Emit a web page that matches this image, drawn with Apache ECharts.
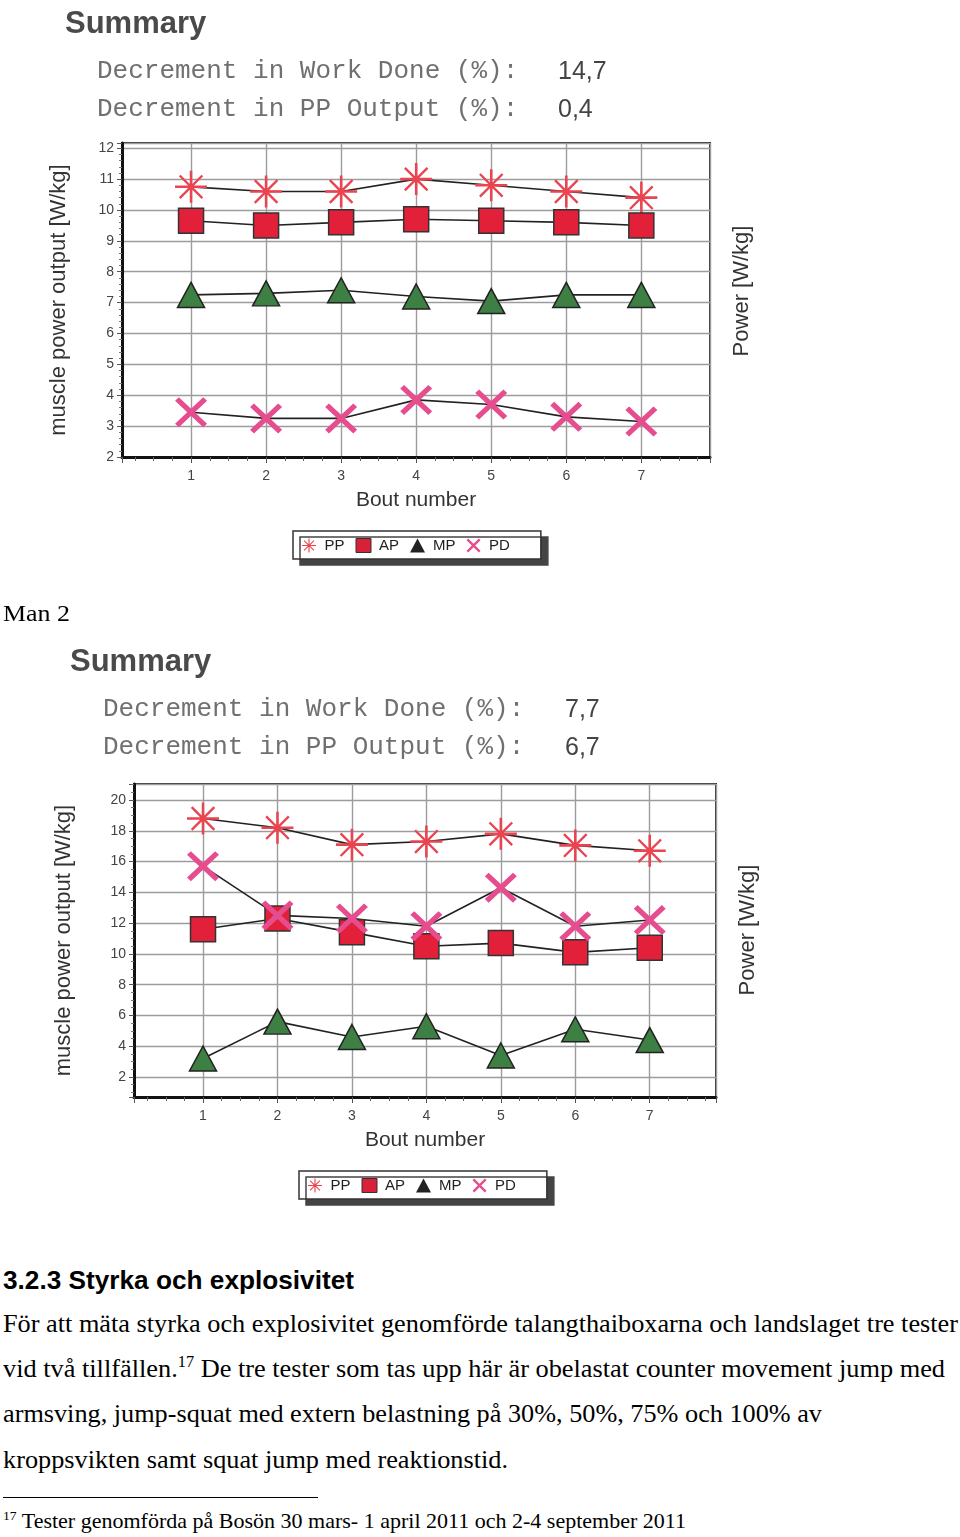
<!DOCTYPE html>
<html><head><meta charset="utf-8">
<script src="https://cdn.jsdelivr.net/npm/echarts@6/dist/echarts.min.js"></script>
<style>
html,body{margin:0;padding:0;background:#fff;}
body{width:960px;height:1537px;position:relative;overflow:hidden;}
#chart{position:absolute;left:0;top:0;width:960px;height:1240px;}
.t{position:absolute;left:3px;white-space:nowrap;line-height:1;transform-origin:0 0;color:#000;font-family:"Liberation Serif","Times New Roman",serif;}
.h{font-family:"Liberation Sans",Arial,sans-serif;font-weight:bold;}
sup{font-size:0.62em;vertical-align:0.6em;line-height:0;}
</style></head><body>
<div id="chart"></div>
<div class="t" data-w="67" style="top:601px;font-size:24px">Man 2</div>
<div class="t h" data-w="351" style="top:1268px;font-size:25px">3.2.3 Styrka och explosivitet</div>
<div class="t" data-w="955" style="top:1311px;font-size:26px">För att mäta styrka och explosivitet genomförde talangthaiboxarna och landslaget tre tester</div>
<div class="t" data-w="942" style="top:1356px;font-size:26px">vid två tillfällen.<sup>17</sup> De tre tester som tas upp här är obelastat counter movement jump med</div>
<div class="t" data-w="819" style="top:1401px;font-size:26px">armsving, jump-squat med extern belastning på 30%, 50%, 75% och 100% av</div>
<div class="t" data-w="505" style="top:1447px;font-size:26px">kroppsvikten samt squat jump med reaktionstid.</div>
<div style="position:absolute;left:3px;top:1497px;width:315px;height:1px;background:#000"></div>
<div class="t" data-w="683" style="top:1511px;font-size:21px"><sup>17</sup> Tester genomförda på Bosön 30 mars- 1 april 2011 och 2-4 september 2011</div>
<script>
// ---------- data ----------
const bouts = [1, 2, 3, 4, 5, 6, 7];
const seriesNames = ['PP', 'AP', 'MP', 'PD'];
const legendLabels = ['PP', 'AP', 'MP', 'PD'];
const decrementLabels = ['Decrement in Work Done (%):', 'Decrement in PP Output (%):'];
const decrementMan1 = ['14,7', '0,4'];
const decrementMan2 = ['7,7', '6,7'];
const summaryTitle = 'Summary';
const xAxisTitle = 'Bout number';
const yAxisTitle = 'muscle power output [W/kg]';
const rightAxisTitle = 'Power [W/kg]';

const man1PP = [10.75, 10.6, 10.6, 11.0, 10.8, 10.6, 10.4];
const man1AP = [9.65, 9.5, 9.6, 9.7, 9.65, 9.6, 9.5];
const man1MP = [7.25, 7.3, 7.4, 7.2, 7.05, 7.25, 7.25];
const man1PD = [3.45, 3.25, 3.25, 3.85, 3.7, 3.3, 3.15];

const man2PP = [18.8, 18.2, 17.1, 17.3, 17.8, 17.05, 16.7];
const man2AP = [11.6, 12.3, 11.4, 10.5, 10.7, 10.1, 10.4];
const man2MP = [3.2, 5.6, 4.6, 5.3, 3.4, 5.1, 4.4];
const man2PD = [15.7, 12.5, 12.3, 11.8, 14.3, 11.8, 12.2];

// ---------- styles ----------
const SANS = '"Liberation Sans", Arial, sans-serif';
const ASTER = 'path://M0,46L100,46L100,54L0,54Z M46,0L54,0L54,100L46,100Z M17.2,12L88,82.8L82.8,88L12,17.2Z M12,82.8L82.8,12L88,17.2L17.2,88Z';
const XMARK = 'path://M12,0L100,88L88,100L0,12Z M88,0L100,12L12,100L0,88Z';
const STY = {
  PP: {symbol: ASTER, size: 32, item: {color: '#ea4450', borderWidth: 0}, legend: {color: '#ea4450'}},
  AP: {symbol: 'rect', size: [25, 25], item: {color: '#e2203a', borderColor: '#333', borderWidth: 1.5}, legend: {color: '#d82038', borderColor: '#333', borderWidth: 1}},
  MP: {symbol: 'triangle', size: [27, 25], item: {color: '#3e7f44', borderColor: '#222', borderWidth: 1.5}, legend: {color: '#222', borderWidth: 0}},
  PD: {symbol: XMARK, size: [32, 30], item: {color: '#e64d8e', borderWidth: 0}, legend: {color: '#e64d8e'}}
};

const charts = [
  {grid: {left: 122, top: 143, width: 588, height: 314}, xMin: 0.08, xMax: 7.915, yMin: 2, yMax: 12.17, yInt: 1, yMinor: 5,
   yNameGap: 52, data: {PP: man1PP, AP: man1AP, MP: man1MP, PD: man1PD}, legend: {left: 293, top: 531},
   title: {x: 65, y: 24}, dec: {x: 97, vx: 558, y: [71, 109]}, values: decrementMan1, right: {x: 742, y: 291}},
  {grid: {left: 134, top: 784, width: 582, height: 313}, xMin: 0.073, xMax: 7.89, yMin: 0.7, yMax: 21.04, yInt: 2, yMinor: 4,
   yNameGap: 59, data: {PP: man2PP, AP: man2AP, MP: man2MP, PD: man2PD}, legend: {left: 299, top: 1171},
   title: {x: 70, y: 662}, dec: {x: 103, vx: 565, y: [709, 747]}, values: decrementMan2, right: {x: 748, y: 930}}
];

const isTick = (v, step, lo) => Math.abs(v / step - Math.round(v / step)) < 1e-6 && v >= lo - 1e-6;

const option = {
  animation: false,
  backgroundColor: '#fff',
  grid: [], xAxis: [], yAxis: [], series: [], legend: [], graphic: []
};

charts.forEach((c, gi) => {
  option.grid.push(Object.assign({show: true, borderColor: '#333', borderWidth: 2, backgroundColor: '#fff'}, c.grid));
  option.xAxis.push({
    type: 'value', gridIndex: gi, min: c.xMin, max: c.xMax, minInterval: 1, maxInterval: 1,
    name: xAxisTitle, nameLocation: 'middle', nameGap: 33,
    nameTextStyle: {fontFamily: SANS, fontSize: 21, color: '#333'},
    axisLine: {show: true, onZero: false, lineStyle: {color: '#111', width: 3}},
    axisTick: {show: true, length: 6, lineStyle: {color: '#555', width: 1}},
    minorTick: {show: true, splitNumber: 4, length: 4, lineStyle: {color: '#666', width: 1}},
    axisLabel: {fontFamily: SANS, fontSize: 14, color: '#444', margin: 12,
      formatter: v => (isTick(v, 1, 1) && v <= 7 ? String(Math.round(v)) : '')},
    splitLine: {show: true, lineStyle: {color: '#9c9c9c', width: 1.4}}
  });
  option.yAxis.push({
    type: 'value', gridIndex: gi, min: c.yMin, max: c.yMax,
    minInterval: c.yInt, maxInterval: c.yInt,
    name: yAxisTitle, nameLocation: 'middle', nameGap: c.yNameGap, nameRotate: 90,
    nameTextStyle: {fontFamily: SANS, fontSize: 22, color: '#333'},
    axisLine: {show: true, onZero: false, lineStyle: {color: '#111', width: 3}},
    axisTick: {show: true, length: 5, lineStyle: {color: '#555', width: 1}},
    minorTick: {show: true, splitNumber: c.yMinor, length: 3, lineStyle: {color: '#777', width: 1}},
    axisLabel: {fontFamily: SANS, fontSize: 14, color: '#444', margin: 8,
      formatter: v => (isTick(v, c.yInt, 2) && v <= c.yMax ? String(Math.round(v)) : '')},
    splitLine: {show: true, lineStyle: {color: '#9c9c9c', width: 1.4}}
  });
  seriesNames.forEach(name => {
    const s = STY[name];
    option.series.push({
      type: 'line', name, xAxisIndex: gi, yAxisIndex: gi,
      data: bouts.map((b, i) => [b, c.data[name][i]]),
      symbol: s.symbol, symbolSize: s.size, symbolKeepAspect: false,
      lineStyle: {color: '#222', width: 1.6},
      itemStyle: s.item,
      emphasis: {disabled: true},
      z: 3
    });
  });
  option.legend.push({
    left: c.legend.left, top: c.legend.top, orient: 'horizontal',
    data: legendLabels.map((n, i) => ({name: seriesNames[i], icon: STY[seriesNames[i]].symbol, itemStyle: STY[seriesNames[i]].legend})),
    formatter: n => legendLabels[seriesNames.indexOf(n)],
    itemWidth: 15, itemHeight: 14, itemGap: 11,
    padding: [7, 31, 6, 9],
    backgroundColor: '#fff', borderColor: '#333', borderWidth: 1.5, borderRadius: 0,
    shadowColor: '#444', shadowBlur: 0, shadowOffsetX: 7, shadowOffsetY: 6,
    textStyle: {fontFamily: SANS, fontSize: 15, color: '#222', padding: [0, 0, 0, 3]},
    selectedMode: false
  });
  option.graphic.push(
    {type: 'text', x: c.title.x, y: c.title.y, style: {text: summaryTitle, font: 'bold 31px ' + SANS, fill: '#4a4a4a', align: 'left', verticalAlign: 'middle'}},
    {type: 'text', x: c.dec.x, y: c.dec.y[0], style: {text: decrementLabels[0], font: '26px "Liberation Mono", monospace', fill: '#707070', align: 'left', verticalAlign: 'middle'}},
    {type: 'text', x: c.dec.x, y: c.dec.y[1], style: {text: decrementLabels[1], font: '26px "Liberation Mono", monospace', fill: '#707070', align: 'left', verticalAlign: 'middle'}},
    {type: 'text', x: c.dec.vx, y: c.dec.y[0] + 1, style: {text: c.values[0], font: '25px ' + SANS, fill: '#444', align: 'left', verticalAlign: 'middle'}},
    {type: 'text', x: c.dec.vx, y: c.dec.y[1] + 1, style: {text: c.values[1], font: '25px ' + SANS, fill: '#444', align: 'left', verticalAlign: 'middle'}},
    {type: 'text', x: c.right.x, y: c.right.y, rotation: Math.PI / 2, style: {text: rightAxisTitle, font: '22px ' + SANS, fill: '#333', align: 'center', verticalAlign: 'middle'}}
  );
});

const chart = echarts.init(document.getElementById('chart'), null, {renderer: 'canvas'});
chart.setOption(option);

function fit() {
  document.querySelectorAll('.t[data-w]').forEach(el => {
    el.style.transform = 'none';
    const w = el.getBoundingClientRect().width;
    const target = parseFloat(el.dataset.w);
    if (w > 0) el.style.transform = 'scaleX(' + (target / w) + ')';
  });
}
fit();
if (document.fonts && document.fonts.ready) document.fonts.ready.then(fit);
</script>
</body></html>
